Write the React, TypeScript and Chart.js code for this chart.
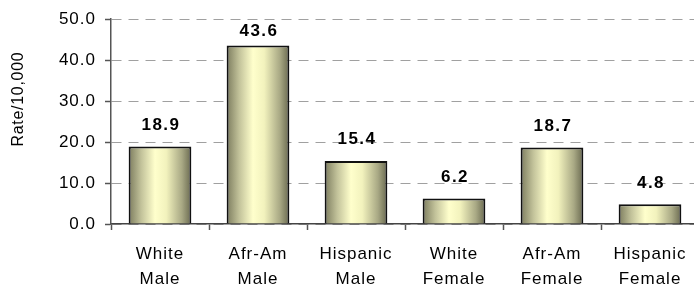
import React, { useEffect, useRef } from "react";
import { Chart, registerables } from "chart.js";

Chart.register(...registerables);

const categories: string[][] = [
  ["White", "Male"],
  ["Afr-Am", "Male"],
  ["Hispanic", "Male"],
  ["White", "Female"],
  ["Afr-Am", "Female"],
  ["Hispanic", "Female"],
];
const rates: number[] = [18.9, 43.6, 15.4, 6.2, 18.7, 4.8];
const yTicks: number[] = [0, 10, 20, 30, 40, 50];
const yTitle = "Rate/10,000";

const FONT = "'Liberation Sans', Arial, sans-serif";
const SPACING = "1px";
const BAR_PCT = 0.64;

const spacingPlugin = {
  id: "spacing",
  beforeUpdate(chart: any) {
    (chart.ctx as any).letterSpacing = SPACING;
  },
  beforeLayout(chart: any) {
    (chart.ctx as any).letterSpacing = SPACING;
  },
  beforeDraw(chart: any) {
    (chart.ctx as any).letterSpacing = SPACING;
  },
};

const labelPlugin = {
  id: "valueLabels",
  afterDatasetsDraw(chart: any) {
    const ctx = chart.ctx;
    const meta = chart.getDatasetMeta(0);
    const top = chart.chartArea.top;
    ctx.save();
    (ctx as any).letterSpacing = "1.5px";
    ctx.font = `bold 17px ${FONT}`;
    ctx.fillStyle = "#000";
    ctx.textAlign = "center";
    ctx.textBaseline = "bottom";
    meta.data.forEach((el: any, i: number) => {
      const y = Math.max(el.y - 13, top + 21);
      ctx.fillText(rates[i].toFixed(1), el.x + 1, y);
    });
    ctx.restore();
  },
  afterDraw(chart: any) {
    const ctx = chart.ctx;
    const area = chart.chartArea;
    ctx.save();
    (ctx as any).letterSpacing = "0.7px";
    ctx.font = `16px ${FONT}`;
    ctx.fillStyle = "#000";
    ctx.textAlign = "center";
    ctx.textBaseline = "middle";
    ctx.translate(19, area.top + (area.bottom - area.top) * 0.39);
    ctx.rotate(-Math.PI / 2);
    ctx.fillText(yTitle, 0, 0);
    ctx.restore();
  },
};

export default function App() {
  const ref = useRef<HTMLCanvasElement | null>(null);
  useEffect(() => {
    document.body.style.margin = "0";
    document.body.style.overflow = "hidden";
    const canvas = ref.current!;
    const chart = new Chart(canvas, {
      type: "bar",
      data: {
        labels: categories,
        datasets: [
          {
            data: rates,
            borderColor: "#111",
            borderWidth: 2,
            barPercentage: BAR_PCT,
            categoryPercentage: 1,
            backgroundColor: (c: any) => {
              const ch = c.chart;
              const xs = ch.scales && ch.scales.x;
              if (!xs || !ch.chartArea) return "#e8e8b0";
              const center = xs.getPixelForValue(c.dataIndex);
              const w = (xs.width / categories.length) * BAR_PCT;
              const g = ch.ctx.createLinearGradient(center - w / 2, 0, center + w / 2, 0);
              g.addColorStop(0, "#7c7c5e");
              g.addColorStop(0.2, "#c2c29a");
              g.addColorStop(0.42, "#ffffcc");
              g.addColorStop(0.6, "#f2f2bd");
              g.addColorStop(0.85, "#a8a884");
              g.addColorStop(1, "#68684f");
              return g;
            },
          },
        ],
      },
      options: {
        responsive: false,
        animation: false,
        events: [],
        layout: { padding: { top: 16, right: 0, bottom: 0, left: 0 } },
        plugins: {
          legend: { display: false },
          tooltip: { enabled: false },
          title: { display: false },
        },
        scales: {
          x: {
            offset: true,
            grid: {
              offset: true,
              drawOnChartArea: false,
              drawTicks: true,
              tickLength: 6,
              tickColor: "#555",
              tickWidth: 1.5,
            },
            border: { color: "#444", width: 1.5 },
            ticks: {
              color: "#000",
              padding: 12,
              maxRotation: 0,
              autoSkip: false,
              font: { family: FONT, size: 17, lineHeight: 1.45 },
            },
            afterFit: (s: any) => {
              s.height = 64;
            },
          },
          y: {
            min: 0,
            max: 50,
            afterBuildTicks: (s: any) => {
              s.ticks = yTicks.map((v) => ({ value: v }));
            },
            grid: {
              display: true,
              drawOnChartArea: true,
              color: "#a0a0a0",
              lineWidth: 1,
              drawTicks: true,
              tickLength: 6,
              tickColor: "#555",
              tickWidth: 1.5,
              tickBorderDash: [],
            },
            border: { color: "#555", width: 1.5, dash: [10, 7] },
            ticks: {
              color: "#000",
              padding: 9,
              font: { family: FONT, size: 17 },
              callback: (v: any) => Number(v).toFixed(1),
            },
            afterFit: (s: any) => {
              s.width = 111;
            },
          },
        },
      },
      plugins: [spacingPlugin, labelPlugin],
    });
    return () => chart.destroy();
  }, []);
  return (
    <div style={{ width: 694, height: 288, overflow: "hidden", position: "relative" }}>
      <canvas ref={ref} width={699} height={288} style={{ display: "block" }} />
    </div>
  );
}
